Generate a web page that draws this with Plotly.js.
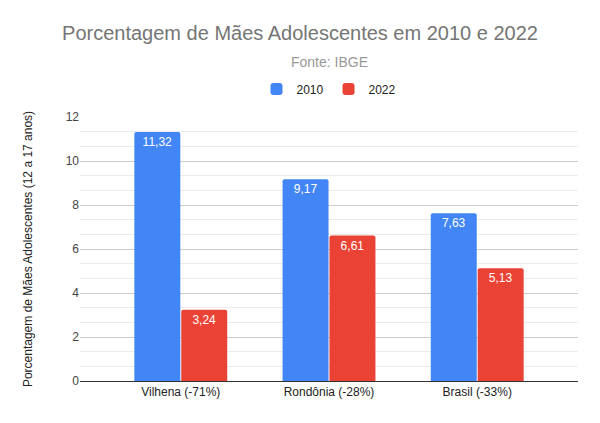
<!DOCTYPE html>
<html>
<head>
<meta charset="utf-8">
<script src="https://cdn.plot.ly/plotly-3.0.1.min.js"></script>
<style>
  body { margin: 0; background: #fff; }
  #chart { width: 600px; height: 423px; }
</style>
</head>
<body>
<div id="chart"></div>
<script>
// values (IBGE)
const categories = ['Vilhena (-71%)', 'Rondônia (-28%)', 'Brasil (-33%)'];
const values2010 = [11.32, 9.17, 7.63];
const values2022 = [3.24, 6.61, 5.13];
const yTicks = [0, 2, 4, 6, 8, 10, 12];

const font = '"Liberation Sans", Arial, sans-serif';

function barTrace(name, ys, color) {
  return {
    type: 'bar',
    name: name,
    x: categories,
    y: ys,
    marker: { color: color, cornerradius: 2 },
    texttemplate: '%{y:.2f}',
    textposition: 'inside',
    insidetextanchor: 'end',
    textangle: 0,
    insidetextfont: { color: '#ffffff', size: 12, family: font },
    hoverinfo: 'x+y'
  };
}

let data = [
  barTrace('2010', values2010, '#4285F4'),
  barTrace('2022', values2022, '#EA4335')
];

let layout = {
  width: 600,
  height: 423,
  margin: { l: 80, r: 22, t: 117, b: 42 },
  paper_bgcolor: '#ffffff',
  plot_bgcolor: '#ffffff',
  separators: ',.',
  font: { family: font, size: 12, color: '#222222' },
  title: {
    text: 'Porcentagem de Mães Adolescentes em 2010 e 2022',
    font: { family: font, size: 20, color: '#757575' },
    x: 0.5,
    xanchor: 'center',
    y: 1 - 33 / 423,
    yanchor: 'middle',
    yref: 'container'
  },
  annotations: [{
    text: 'Fonte: IBGE',
    xref: 'paper', yref: 'paper',
    x: 0.5, y: 1 + (117 - 62) / 264,
    xanchor: 'center', yanchor: 'middle',
    showarrow: false,
    font: { family: font, size: 14, color: '#999999' }
  }],
  bargap: 0.367,
  bargroupgap: 0.02,
  showlegend: true,
  legend: {
    orientation: 'h',
    x: 0.5,
    xanchor: 'center',
    y: 1 + (117 - 89) / 264,
    yanchor: 'middle',
    itemwidth: 30,
    font: { family: font, size: 12, color: '#222222' },
    itemclick: false
  },
  xaxis: {
    type: 'category',
    range: [-0.68, 2.68],
    tickfont: { family: font, size: 12, color: '#222222' },
    showgrid: false,
    showline: true,
    linecolor: '#333333',
    linewidth: 1,
    ticks: '',
    fixedrange: true
  },
  yaxis: {
    range: [0, 12],
    tickvals: yTicks,
    ticktext: yTicks.map(String),
    tickfont: { family: font, size: 12, color: '#444444' },
    gridcolor: '#cccccc',
    gridwidth: 1,
    zeroline: false,
    ticks: '',
    ticklen: 0,
    minor: { dtick: 2 / 3, showgrid: true, gridcolor: '#ebebeb', gridwidth: 1 },
    title: {
      text: 'Porcentagem de Mães Adolescentes (12 a 17 anos)',
      font: { family: font, size: 12, color: '#222222' },
      standoff: 30
    },
    fixedrange: true
  }
};

Plotly.newPlot('chart', data, layout, { displayModeBar: false, staticPlot: true });
</script>
</body>
</html>
